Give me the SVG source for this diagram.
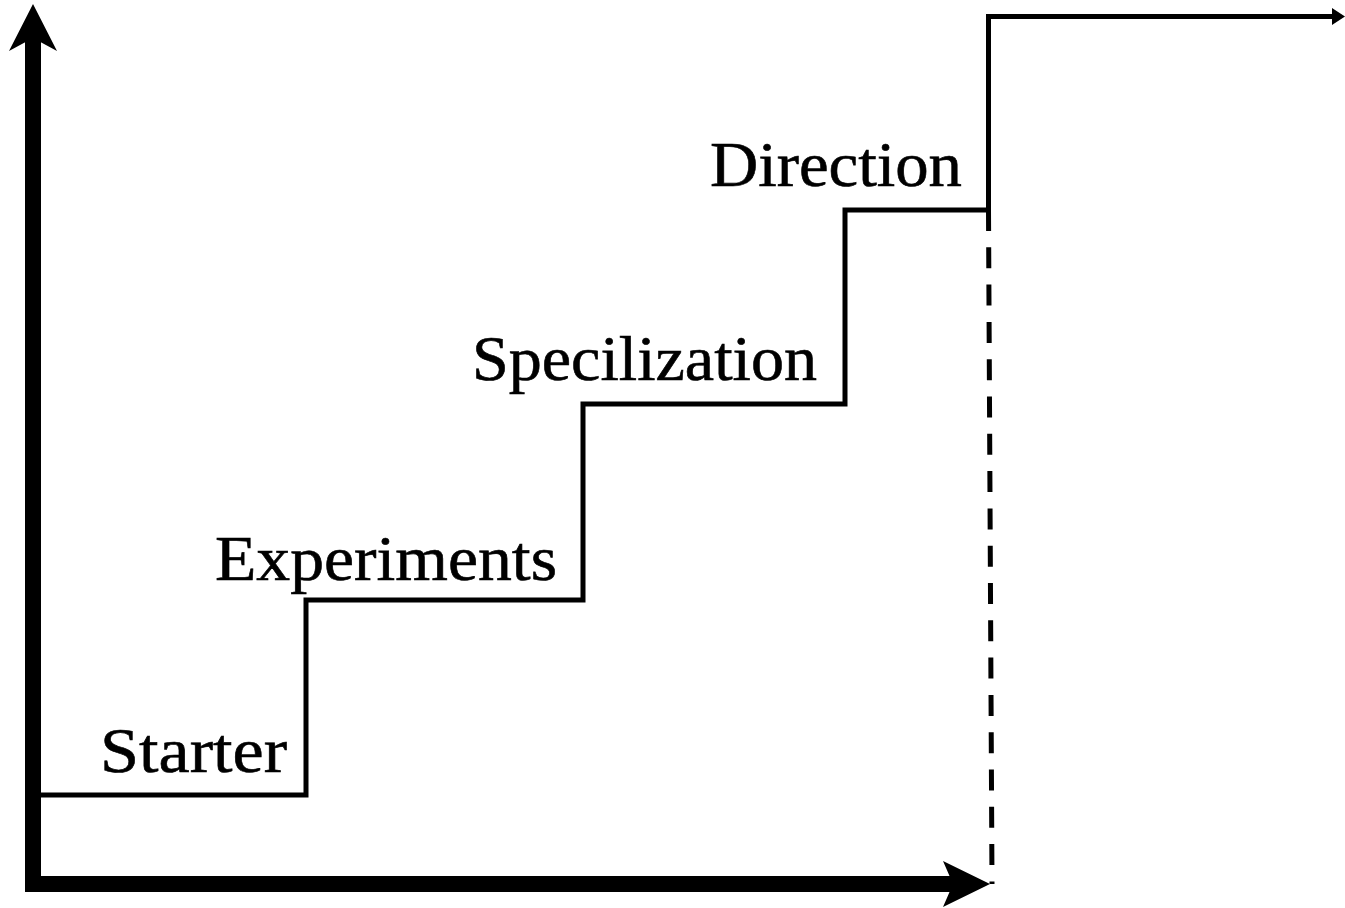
<svg xmlns="http://www.w3.org/2000/svg" width="1345" height="908" viewBox="0 0 1345 908">
  <style>
    .label { font-family: "Liberation Serif", "DejaVu Serif", serif; font-size: 63px; fill: #000; stroke: #000; stroke-width: 0.6; }
    .step { fill: none; stroke: #000; stroke-width: 5; stroke-linejoin: miter; stroke-linecap: butt; }
    .axis { fill: none; stroke: #000; stroke-width: 16; stroke-linecap: butt; }
    .dash { fill: none; stroke: #000; stroke-width: 5; stroke-dasharray: 21 16.3; }
  </style>
  <rect width="1345" height="908" fill="#fff"/>

  <!-- axes -->
  <g id="axes">
    <path class="axis" d="M33 38 V892"/>
    <polygon points="33,4 57,51 33,38 9,51" fill="#000"/>
    <path class="axis" d="M25 884 H955"/>
    <polygon points="990,884 943,861 953,884 943,907" fill="#000"/>
  </g>

  <!-- connectors: the staircase and the dashed drop line -->
  <g id="connectors">
    <path class="step" d="M41 795 H306 V600 H583 V404 H845 V210 H988.5 V16.5 H1334"/>
    <polygon points="1345,16.5 1332,8 1332,25" fill="#000"/>
    <path class="dash" d="M988.5 210 L992 884"/>
  </g>

  <g id="starter">
    <text class="label" x="100" y="772" textLength="187" lengthAdjust="spacingAndGlyphs">Starter</text>
  </g>
  <g id="experiments">
    <text class="label" x="215" y="580" textLength="342" lengthAdjust="spacingAndGlyphs">Experiments</text>
  </g>
  <g id="specilization">
    <text class="label" x="472" y="380" textLength="345" lengthAdjust="spacingAndGlyphs">Specilization</text>
  </g>
  <g id="direction">
    <text class="label" x="710" y="186" textLength="252" lengthAdjust="spacingAndGlyphs">Direction</text>
  </g>
</svg>
